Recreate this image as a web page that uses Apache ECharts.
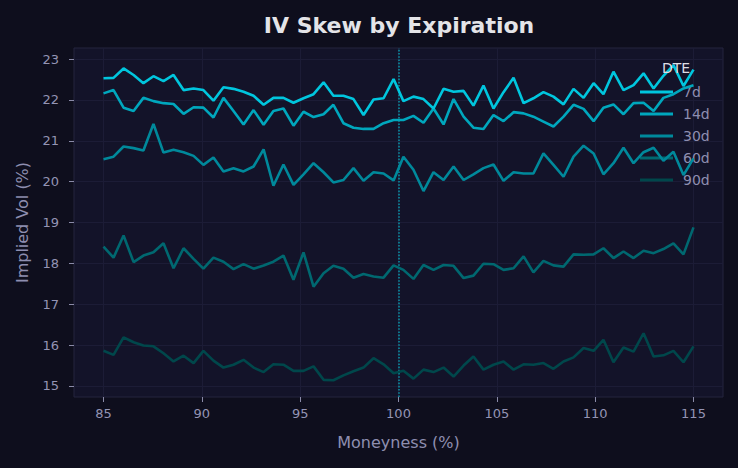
<!DOCTYPE html>
<html>
<head>
<meta charset="utf-8">
<script src="https://cdn.jsdelivr.net/npm/echarts@6/dist/echarts.min.js"></script>
<style>
html,body{margin:0;padding:0;background:#0e0e1d;}
#chart{width:738px;height:468px;}
</style>
</head>
<body>
<div id="chart"></div>
<script>
// Moneyness grid (%), 60 strikes from 85 to 115
var moneyness = [85.00,85.51,86.02,86.53,87.03,87.54,88.05,88.56,89.07,89.58,
  90.08,90.59,91.10,91.61,92.12,92.63,93.14,93.64,94.15,94.66,
  95.17,95.68,96.19,96.69,97.20,97.71,98.22,98.73,99.24,99.75,
  100.25,100.76,101.27,101.78,102.29,102.80,103.31,103.81,104.32,104.83,
  105.34,105.85,106.36,106.86,107.37,107.88,108.39,108.90,109.41,109.92,
  110.42,110.93,111.44,111.95,112.46,112.97,113.47,113.98,114.49,115.00];

var seriesNames = ['7d','14d','30d','60d','90d'];

var iv7d = [22.53,22.54,22.77,22.61,22.41,22.58,22.46,22.61,22.24,22.28,22.24,21.98,22.31,22.27,22.20,
  22.10,21.88,22.05,22.05,21.93,22.04,22.14,22.43,22.10,22.10,22.02,21.63,22.01,22.04,22.51,
  21.97,22.08,22.02,21.79,22.27,22.20,22.22,21.86,22.35,21.79,22.19,22.54,21.92,22.04,22.19,
  22.08,21.89,22.27,22.05,22.41,22.14,22.69,22.24,22.36,22.65,22.28,22.59,22.85,22.34,22.74];

var iv14d = [22.16,22.24,21.81,21.73,22.05,21.97,21.92,21.90,21.66,21.82,21.81,21.57,22.05,21.73,21.40,
  21.75,21.39,21.73,21.79,21.37,21.71,21.58,21.65,21.88,21.43,21.32,21.29,21.29,21.43,21.51,
  21.51,21.61,21.44,21.79,21.40,22.02,21.59,21.32,21.29,21.63,21.48,21.70,21.67,21.59,21.47,
  21.35,21.59,21.88,21.78,21.48,21.81,21.89,21.65,21.92,21.93,21.73,22.05,22.14,22.28,22.36];

var iv30d = [20.55,20.61,20.86,20.82,20.76,21.41,20.71,20.78,20.72,20.63,20.41,20.59,20.25,20.33,20.25,
  20.37,20.79,19.90,20.42,19.92,20.18,20.45,20.23,19.98,20.04,20.33,20.02,20.23,20.20,20.03,
  20.61,20.29,19.77,20.23,20.04,20.37,20.04,20.18,20.33,20.42,20.02,20.23,20.20,20.20,20.69,
  20.41,20.12,20.61,20.88,20.69,20.18,20.45,20.83,20.45,20.72,20.83,20.51,20.73,20.16,20.57];

var iv60d = [18.41,18.14,18.68,18.03,18.19,18.27,18.49,17.88,18.37,18.11,17.87,18.14,18.04,17.86,17.98,
  17.87,17.95,18.04,18.19,17.60,18.27,17.43,17.76,17.94,17.87,17.65,17.74,17.68,17.65,17.95,
  17.84,17.62,17.96,17.84,17.96,17.94,17.64,17.70,17.99,17.98,17.84,17.88,18.17,17.78,18.06,
  17.95,17.92,18.22,18.21,18.22,18.37,18.13,18.29,18.13,18.31,18.25,18.35,18.49,18.22,18.88];

var iv90d = [15.86,15.76,16.19,16.07,15.99,15.97,15.80,15.60,15.74,15.56,15.86,15.62,15.45,15.52,15.64,
  15.45,15.34,15.53,15.52,15.37,15.37,15.48,15.15,15.14,15.26,15.36,15.45,15.68,15.53,15.31,
  15.37,15.18,15.40,15.34,15.45,15.23,15.50,15.72,15.40,15.52,15.60,15.40,15.53,15.52,15.56,
  15.42,15.60,15.70,15.93,15.86,16.13,15.58,15.94,15.84,16.29,15.72,15.75,15.86,15.58,15.97];

var xTicks = [85, 90, 95, 100, 105, 110, 115];
var yTicks = [15, 16, 17, 18, 19, 20, 21, 22, 23];
var atmLevel = 100;

var colors = ['#00c6de', '#00a7bd', '#00899b', '#006870', '#00474b'];
var allSeries = [iv7d, iv14d, iv30d, iv60d, iv90d];

var font = 'DejaVu Sans, Noto Sans, sans-serif';
var chart = echarts.init(document.getElementById('chart'), null, {renderer: 'svg'});

var series = seriesNames.map(function (name, k) {
  var s = {
    name: name,
    type: 'line',
    showSymbol: false,
    symbol: 'none',
    data: moneyness.map(function (x, i) { return [x, allSeries[k][i]]; }),
    lineStyle: {width: 2.6, color: colors[k]},
    itemStyle: {color: colors[k]},
    z: 10 - k,
    animation: false
  };
  if (k === 0) {
    s.markLine = {
      silent: true,
      symbol: 'none',
      label: {show: false},
      lineStyle: {type: 'dotted', color: '#0a8ea3', width: 1.6},
      data: [{xAxis: atmLevel}],
      animation: false
    };
  }
  return s;
});

chart.setOption({
  backgroundColor: '#0e0e1d',
  animation: false,
  title: {
    text: 'IV Skew by Expiration',
    left: 399,
    top: 14,
    padding: 0,
    textAlign: 'center',
    textStyle: {color: '#e4e4e8', fontSize: 22, fontWeight: 'bold', fontFamily: font}
  },
  graphic: [{
    type: 'text',
    left: 662,
    top: 61,
    z: 100,
    style: {text: 'DTE', fill: '#dedee4', fontSize: 14, fontFamily: font}
  }],
  legend: {
    orient: 'vertical',
    left: 640,
    top: 85,
    itemWidth: 33,
    itemHeight: 3,
    itemGap: 8,
    icon: 'rect',
    padding: 0,
    data: seriesNames,
    textStyle: {color: '#8e8eb0', fontSize: 14, lineHeight: 14, fontFamily: font, padding: [0, 0, 0, 5]}
  },
  grid: {
    left: 74, top: 48, width: 649, height: 349,
    show: true,
    backgroundColor: '#131329',
    borderColor: '#24243f',
    borderWidth: 1
  },
  xAxis: {
    type: 'value',
    min: 83.5,
    max: 116.5,
    name: 'Moneyness (%)',
    nameLocation: 'middle',
    nameGap: 37,
    nameTextStyle: {color: '#8e8eb0', fontSize: 16, fontFamily: font},
    axisLine: {show: false},
    axisTick: {show: true, length: 5, lineStyle: {color: '#8a8aa8'}, customValues: xTicks},
    axisLabel: {color: '#9494b4', fontSize: 13, margin: 10, fontFamily: font, customValues: xTicks},
    splitLine: {show: true, lineStyle: {color: '#1c1c36', width: 1}}
  },
  yAxis: {
    type: 'value',
    min: 14.73,
    max: 23.27,
    name: 'Implied Vol (%)',
    nameLocation: 'middle',
    nameGap: 44,
    nameTextStyle: {color: '#8e8eb0', fontSize: 16, fontFamily: font},
    axisLine: {show: false},
    axisTick: {show: true, length: 5, lineStyle: {color: '#8a8aa8'}, customValues: yTicks},
    axisLabel: {color: '#9494b4', fontSize: 13, margin: 15, fontFamily: font, customValues: yTicks},
    splitLine: {show: true, lineStyle: {color: '#1c1c36', width: 1}}
  },
  series: series
});
</script>
</body>
</html>
